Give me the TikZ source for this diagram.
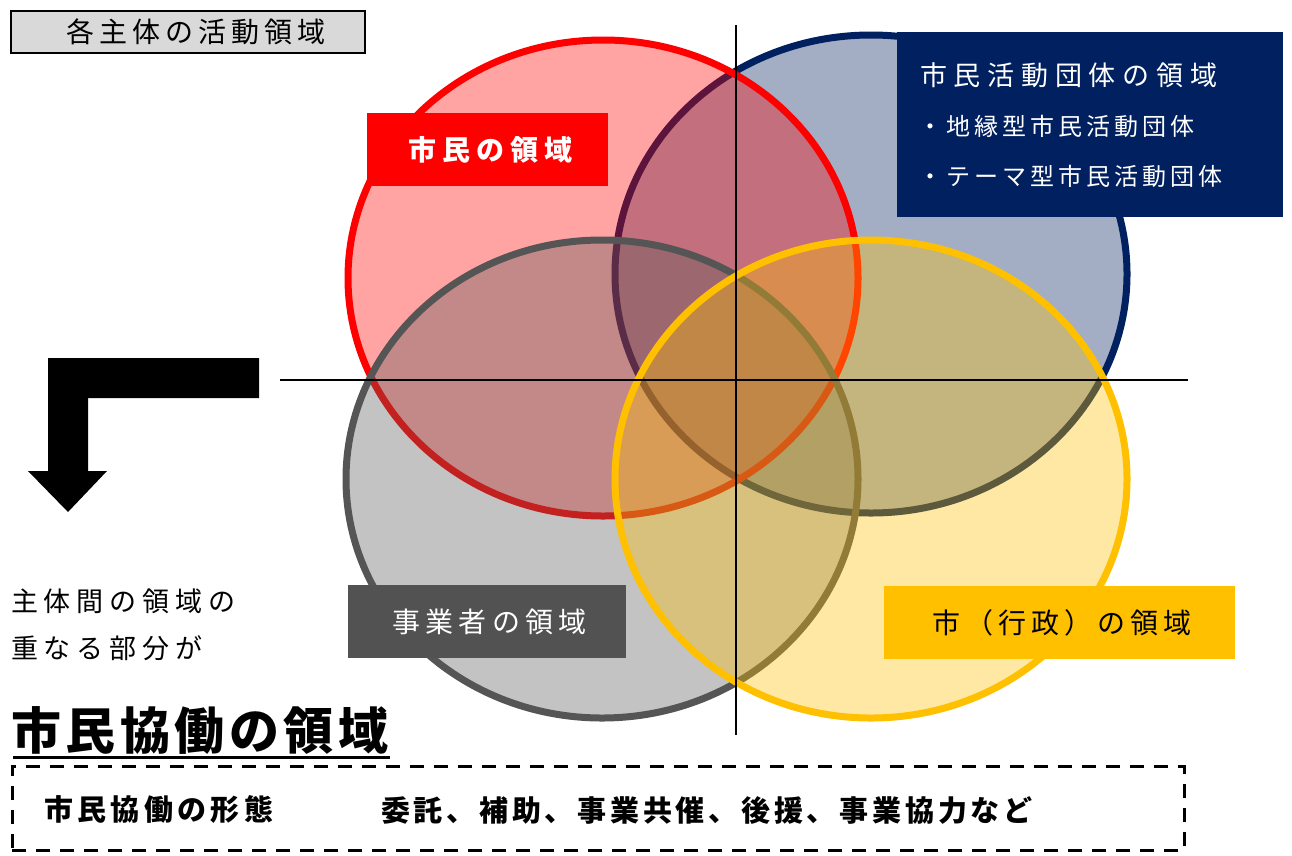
\documentclass[tikz,border=0pt]{standalone}
\usepackage{fontspec}
\setmainfont{Noto Sans CJK JP}
\newfontfamily\jp{Noto Sans CJK JP}
\newcommand{\jsz}[2]{\jp\fontsize{#1pt}{#1pt}\selectfont\addfontfeature{LetterSpace=#2}}
\definecolor{cred}{HTML}{FF0000}
\definecolor{cnavy}{HTML}{002060}
\definecolor{cgrayline}{HTML}{555555}
\definecolor{cgrayfill}{HTML}{595959}
\definecolor{cgraybox}{HTML}{525252}
\definecolor{cyel}{HTML}{FFC000}
\definecolor{ctitle}{HTML}{D9D9D9}
\begin{document}
\begin{tikzpicture}[x=1pt,y=-1pt,
  venn/.style={line width=7pt, fill opacity=0.36},
  areabox/.style={inner sep=0pt, outer sep=0pt, minimum height=73pt},
  txt/.style={inner sep=0pt, outer sep=0pt},
  axis/.style={line width=1.5pt, black}]
\useasboundingbox (0,0) rectangle (1292,855);
\fill[white] (0,0) rectangle (1292,855);

% circles
\draw[venn, draw=cnavy, fill=cnavy] (871,274) ellipse [x radius=256pt, y radius=239pt];
\draw[venn, draw=cred, fill=cred] (603,278) ellipse [x radius=255pt, y radius=238pt];
\draw[venn, draw=cgrayline, fill=cgrayfill] (602,479) ellipse [x radius=256pt, y radius=239pt];
\draw[venn, draw=cyel, fill=cyel] (871,479) ellipse [x radius=256pt, y radius=239pt];

% axes
\coordinate (vtop) at (736,25);
\coordinate (vbot) at (736,735);
\coordinate (hleft) at (280,380);
\coordinate (hright) at (1188,380);
\draw[axis] (vtop) -- (vbot);
\draw[axis] (hleft) -- (hright);

% title box
\node[txt, draw=black, line width=2pt, fill=ctitle, minimum width=354pt, minimum height=42pt] (titlebox) at (188,32) {};
\node[txt] (titletext) at (196,32) {\jsz{28}{18}各主体の活動領域};

% area labels
\node[areabox, fill=cred, minimum width=241pt, text=white] (citizen) at (487.5,149.5) {\hspace*{6pt}\jsz{28}{22}\bfseries 市民の領域};
\node[areabox, fill=cnavy, minimum width=386pt, minimum height=185pt] (groups) at (1090,124.5) {};
\node[txt, anchor=west, text=white] (groupsT) at (920,75) {\jsz{27}{25}市民活動団体の領域};
\node[txt, anchor=west, text=white] (groupsA) at (918,126.5) {\jsz{24}{17}・地縁型市民活動団体};
\node[txt, anchor=west, text=white] (groupsB) at (918,176.5) {\jsz{24}{17}・テーマ型市民活動団体};
\node[areabox, fill=cgraybox, minimum width=278pt, text=white] (business) at (487,621.5) {\hspace*{5pt}\jsz{28}{19}事業者の領域};
\node[areabox, fill=cyel, minimum width=351pt, text=black] (city) at (1059.5,622.5) {\hspace*{5pt}\jsz{28}{18}市（行政）の領域};

% arrow
\fill[black] (48,358) -- (259,358) -- (259,398) -- (88,398) -- (88,471) -- (107,471) -- (68,512) -- (28,471) -- (48,471) -- cycle;

% left texts
\node[txt, anchor=west] (note1) at (11,601) {\jsz{27}{22}主体間の領域の};
\node[txt, anchor=west] (note2) at (11,648) {\jsz{27}{22}重なる部分が};
\node[txt, anchor=west] (big) at (11,730) {\jsz{50}{9}\bfseries 市民協働の領域};
\draw[line width=3pt] (13,757) -- (390,757);

% bottom dashed box
\node[txt, draw=black, line width=3pt, dash pattern=on 14pt off 10pt, minimum width=1172pt, minimum height=84pt] (formbox) at (598,808) {};
\node[txt, anchor=west] (formA) at (44,810) {\jsz{29}{15}\bfseries 市民協働の形態};
\node[txt, anchor=west] (formB) at (381,810) {\jsz{29}{13}\bfseries 委託、補助、事業共催、後援、事業協力など};
\end{tikzpicture}
\end{document}
